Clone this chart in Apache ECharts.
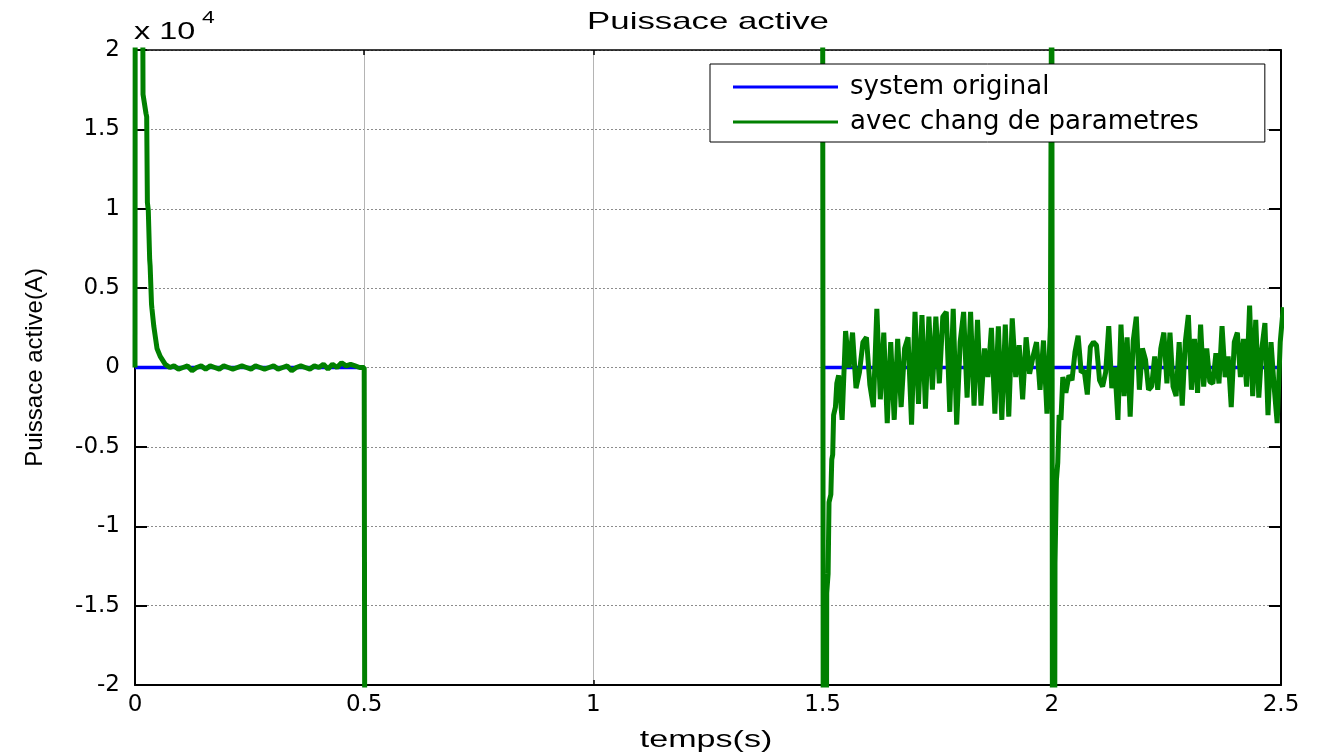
<!DOCTYPE html>
<html>
<head>
<meta charset="utf-8">
<script src="https://cdn.jsdelivr.net/npm/echarts@6/dist/echarts.min.js"></script>
<style>
html,body{margin:0;padding:0;background:#fff;}
#main{width:1323px;height:756px;}
</style>
</head>
<body>
<div id="main"></div>
<script>
// values in units of 1e4 (axis shows "x 10^4")
// start-up transient (t, value)
var startT = [0, 0.0005, 0.016, 0.0175, 0.024, 0.0255, 0.027, 0.029, 0.032, 0.033, 0.036, 0.037, 0.041, 0.044, 0.048, 0.055, 0.066, 0.076];
var startV = [0, 3, 3, 1.72, 1.6, 1.58, 1.04, 0.99, 0.68, 0.64, 0.4, 0.37, 0.26, 0.2, 0.12, 0.07, 0.02, 0];
// small ripple 0.085 -> 0.5
var rippleA = [0.01, -0.01, 0, 0.01, -0.02, 0, 0.01, -0.01, 0.01, 0, -0.01, 0.01, 0, -0.01, 0, 0.01, 0, -0.01, 0.01, 0, -0.01, 0, 0.01, -0.01, 0, 0.01, -0.02, 0, 0.01, 0, -0.01, 0.01, 0, 0.02, -0.01, 0.02, 0, 0.03, 0.01, 0.02, 0.01, 0, 0];
// step at t=0.5 (goes off scale)
var dropT = [0.5015];
var dropV = [-3];
// reconnection at 1.5 s
var bT = [1.5, 1.5015, 1.508, 1.509, 1.512, 1.514, 1.518, 1.520, 1.522, 1.524, 1.528, 1.531];
var bV = [3, -3, -3, -1.42, -1.3, -0.85, -0.8, -0.58, -0.55, -0.3, -0.25, -0.1];
// noise 1.535 -> 1.997
var noiseB = [-0.05, -0.33, 0.23, 0, 0.22, -0.13, -0.03, 0.16, 0.19, -0.11, -0.25, 0.37, -0.2, 0.22, -0.35, 0.16, -0.33, 0.18, -0.25, 0.12, 0.19, -0.36, 0.35, -0.23, 0.33, -0.26, 0.32, -0.14,
  0.32, -0.1, 0.32, 0.35, -0.28, 0.37, -0.36, 0.16, 0.35, -0.19, 0.35, -0.24, 0.3, -0.24, 0.12, -0.06, 0.25, -0.29, 0.26, -0.33, 0.27, -0.31, 0.31, -0.06, 0.14, -0.2, 0.19, -0.04, 0.07, 0.16, -0.14, 0.17, -0.29, 0.26];
// second disturbance at 2 s
var cT = [2.0, 2.0015, 2.006, 2.007, 2.010, 2.013, 2.016, 2.020];
var cV = [3, -3, -3, -1.23, -0.71, -0.6, -0.3, -0.33];
// noise 2.024 -> 2.505
var noiseC = [-0.06, -0.16, -0.05, -0.08, 0.1, 0.2, -0.03, -0.02, -0.17, 0.13, 0.16, 0.14, -0.08, -0.12, -0.03, 0.26, -0.13, 0, -0.33, 0.27, -0.18, 0.19, -0.31, 0.17, 0.32, -0.14, 0.12, 0.05, -0.14, -0.12, 0.07, -0.14, 0.12, 0.22, -0.1,
  0.22, -0.12, -0.18, 0.16, -0.24, 0.16, 0.33, -0.14, 0.18, -0.16, 0.27, -0.12, 0.12, -0.09, -0.1, 0.09, -0.1, 0.26, -0.06, 0.07, -0.25, 0.16, 0.22, -0.06, 0.18, -0.12, 0.39, -0.18, 0.3, -0.19, 0.12, 0.28, -0.3, 0.16, -0.12, -0.35, 0.16, 0.38];
// original system: zero where it is defined
var origT = [0, 0.5, 1.0, 1.5, 2.5];
var origV = [0, 0, '-', 0, 0];

function pairs(t, v) {
  var out = [];
  for (var i = 0; i < t.length; i++) out.push([t[i], v[i]]);
  return out;
}
function spread(t0, t1, v) {
  var out = [];
  var dt = (t1 - t0) / (v.length - 1);
  for (var i = 0; i < v.length; i++) out.push([t0 + i * dt, v[i]]);
  return out;
}

var green = [].concat(
  pairs(startT, startV),
  spread(0.085, 0.5, rippleA),
  pairs(dropT, dropV),
  [[1.0, '-']],
  pairs(bT, bV),
  spread(1.535, 1.997, noiseB),
  pairs(cT, cV),
  spread(2.024, 2.505, noiseC)
);
var blue = pairs(origT, origV);

var myChart = echarts.init(document.getElementById('main'));
var tickFont = {fontFamily: 'DejaVu Sans', fontSize: 23, color: '#000'};
var option = {
  animation: false,
  backgroundColor: '#fff',
  grid: {left: 135, right: 42, top: 50, bottom: 71},
  legend: {
    data: ['system original', 'avec chang de parametres'],
    orient: 'vertical',
    left: 710,
    top: 64,
    icon: 'rect',
    backgroundColor: '#fff',
    borderColor: '#000',
    borderWidth: 1,
    borderRadius: 0,
    padding: [10, 66, 7, 23],
    itemWidth: 105,
    itemHeight: 3,
    itemGap: 9,
    textStyle: {fontFamily: 'DejaVu Sans', fontSize: 26, color: '#000', padding: [0, 0, 0, 7]}
  },
  xAxis: [{
    type: 'value', min: 0, max: 2.5, interval: 0.5,
    axisLine: {onZero: false, lineStyle: {color: '#000', width: 2}},
    axisTick: {inside: true, length: 5, lineStyle: {color: '#000', width: 1.5}},
    axisLabel: Object.assign({margin: 9}, tickFont),
    splitLine: {show: true, lineStyle: {color: '#b4b4b4', width: 1}}
  }, {
    type: 'value', min: 0, max: 2.5, interval: 0.5, position: 'top',
    axisLine: {show: true, onZero: false, lineStyle: {color: '#000', width: 1.5}},
    axisTick: {inside: true, length: 5, lineStyle: {color: '#000', width: 1.5}},
    axisLabel: {show: false},
    splitLine: {show: false}
  }],
  yAxis: [{
    type: 'value', min: -2, max: 2, interval: 0.5,
    name: 'Puissace active(A)',
    nameLocation: 'middle',
    nameGap: 88,
    nameTextStyle: {fontFamily: 'Liberation Sans', fontSize: 24, color: '#000'},
    axisLine: {show: true, onZero: false, lineStyle: {color: '#000', width: 2}},
    axisTick: {inside: true, length: 12, lineStyle: {color: '#000', width: 2}},
    axisLabel: Object.assign({margin: 15}, tickFont),
    splitLine: {show: true, lineStyle: {color: '#8c8c8c', width: 1, type: [2, 2]}}
  }, {
    type: 'value', min: -2, max: 2, interval: 0.5, position: 'right',
    axisLine: {show: true, onZero: false, lineStyle: {color: '#000', width: 2}},
    axisTick: {inside: true, length: 12, lineStyle: {color: '#000', width: 2}},
    axisLabel: {show: false},
    splitLine: {show: false}
  }],
  graphic: [
    {type: 'text', x: 708, y: 22, scaleX: 1.45, style: {text: 'Puissace active', font: '24px "Liberation Sans"', fill: '#000', align: 'center', verticalAlign: 'middle'}},
    {type: 'text', x: 706, y: 740, scaleX: 1.42, style: {text: 'temps(s)', font: '24px "Liberation Sans"', fill: '#000', align: 'center', verticalAlign: 'middle'}},
    {type: 'text', x: 134, y: 32, scaleX: 1.35, style: {text: 'x 10', font: '24px "Liberation Sans"', fill: '#000', align: 'left', verticalAlign: 'middle'}},
    {type: 'text', x: 202, y: 18, scaleX: 1.35, style: {text: '4', font: '17px "Liberation Sans"', fill: '#000', align: 'left', verticalAlign: 'middle'}}
  ],
  series: [{
    name: 'system original',
    type: 'line',
    data: blue,
    symbol: 'none',
    connectNulls: false,
    itemStyle: {color: '#0000ff'},
    lineStyle: {color: '#0000ff', width: 3.5}
  }, {
    name: 'avec chang de parametres',
    type: 'line',
    data: green,
    symbol: 'none',
    connectNulls: false,
    itemStyle: {color: '#008000'},
    lineStyle: {color: '#008000', width: 5}
  }]
};
myChart.setOption(option);
</script>
</body>
</html>
